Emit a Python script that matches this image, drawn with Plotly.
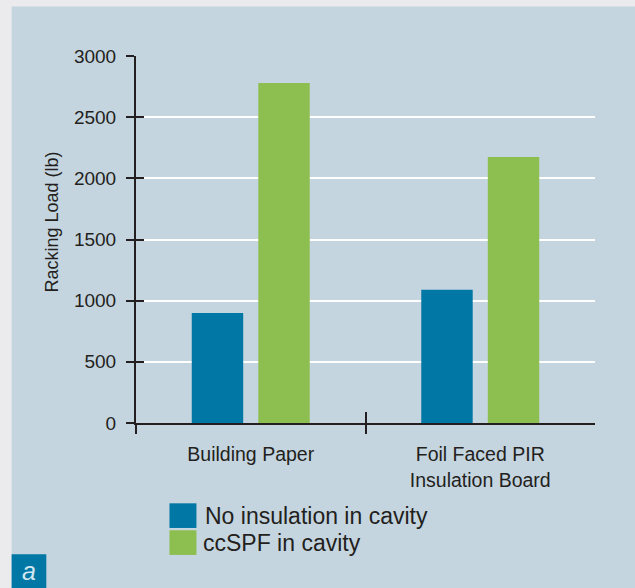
import plotly.graph_objects as go

# ---- data ----
categories = ["Building Paper", "Foil Faced PIR<br>Insulation Board"]
series_names = ["No insulation in cavity", "ccSPF in cavity"]
no_insulation = [900, 1090]
ccspf = [2780, 2175]
y_ticks = [0, 500, 1000, 1500, 2000, 2500, 3000]
y_title = "Racking Load (lb)"
panel_label = "a"

# ---- styles ----
W, H = 635, 588
L, R, T, B = 135.5, 40, 55.7, 164.5
BLUE = "#0077a4"
GREEN = "#8cbe50"
PANEL = "#c5d5df"
OUTER = "#ebebed"
DARK = "#231f20"
FONT = "Liberation Sans, Arial, sans-serif"

pw = W - L - R
ph = H - T - B


def px(x):
    return (x - L) / pw


def py(y):
    return (H - B - y) / ph


fig = go.Figure()
fig.add_trace(go.Bar(x=categories, y=no_insulation, name=series_names[0],
                     marker=dict(color=BLUE, line=dict(width=0)), showlegend=False,
                     hoverinfo="x+y"))
fig.add_trace(go.Bar(x=categories, y=ccspf, name=series_names[1],
                     marker=dict(color=GREEN, line=dict(width=0)), showlegend=False,
                     hoverinfo="x+y"))
# empty helper traces so that the overlay tick axes get drawn
for xa, ya in (("x2", "y"), ("x3", "y"), ("x", "y2")):
    fig.add_trace(go.Scatter(x=[None], y=[None], xaxis=xa, yaxis=ya, mode="markers",
                             showlegend=False, hoverinfo="skip"))

shapes = [
    dict(type="rect", xref="paper", yref="paper", x0=px(11), x1=px(W + 5),
         y0=py(H + 5), y1=py(6), fillcolor=PANEL, line=dict(width=0), layer="below"),
    dict(type="rect", xref="paper", yref="paper", x0=px(11), x1=px(45.7),
         y0=py(H + 5), y1=py(555), fillcolor=BLUE, line=dict(width=0), layer="below"),
    dict(type="rect", xref="paper", yref="paper", x0=px(169), x1=px(196),
         y0=py(528.7), y1=py(504), fillcolor=BLUE, line=dict(width=0)),
    dict(type="rect", xref="paper", yref="paper", x0=px(169), x1=px(196),
         y0=py(555.7), y1=py(531), fillcolor=GREEN, line=dict(width=0)),
]

annotations = [
    dict(xref="paper", yref="paper", x=px(203), y=py(516.5), xanchor="left", yanchor="middle",
         text=series_names[0], showarrow=False, font=dict(size=23, color=DARK, family=FONT)),
    dict(xref="paper", yref="paper", x=px(201), y=py(543.5), xanchor="left", yanchor="middle",
         text=series_names[1], showarrow=False, font=dict(size=23, color=DARK, family=FONT)),
    dict(xref="paper", yref="paper", x=px(28.5), y=py(571.5), xanchor="center", yanchor="middle",
         text="<i>" + panel_label + "</i>", showarrow=False,
         font=dict(size=25, color="#d2e6f1", family=FONT)),
    dict(xref="paper", yref="paper", x=px(51), y=py(222), xanchor="center", yanchor="middle",
         text=y_title, textangle=-90, showarrow=False,
         font=dict(size=18, color=DARK, family=FONT)),
]

fig.update_layout(
    width=W, height=H,
    margin=dict(l=L, r=R, t=T, b=B, pad=0),
    paper_bgcolor=OUTER,
    plot_bgcolor="rgba(0,0,0,0)",
    barmode="group",
    bargap=0.42,
    bargroupgap=0.227,
    font=dict(family=FONT, color=DARK),
    shapes=shapes,
    annotations=annotations,
    hovermode="closest",
    xaxis=dict(
        type="category", range=[-0.5, 1.5], showgrid=False, zeroline=False,
        showline=True, linecolor=DARK, linewidth=2, ticks="",
        tickfont=dict(size=19.5, color=DARK, family=FONT), ticklabelstandoff=13,
    ),
    xaxis2=dict(
        overlaying="x", anchor="y", type="linear", range=[-0.5, 1.5],
        tickvals=[-0.5, 0.5], ticks="outside", ticklen=10, tickwidth=2, tickcolor=DARK,
        showticklabels=False, showgrid=False, zeroline=False, showline=False,
    ),
    xaxis3=dict(
        overlaying="x", anchor="y", type="linear", range=[-0.5, 1.5],
        tickvals=[0.5], ticks="inside", ticklen=11, tickwidth=2, tickcolor=DARK,
        showticklabels=False, showgrid=False, zeroline=False, showline=False,
    ),
    yaxis=dict(
        range=[0, 3000], tickvals=y_ticks, ticks="outside", ticklen=8, tickwidth=2,
        tickcolor=DARK, showline=True, linecolor=DARK, linewidth=2,
        showgrid=True, gridcolor="white", gridwidth=2, zeroline=False,
        tickfont=dict(size=19, color=DARK, family=FONT), ticklabelstandoff=6,
    ),
    yaxis2=dict(
        overlaying="y", anchor="x", range=[0, 3000], tickvals=y_ticks,
        ticks="inside", ticklen=8, tickwidth=2, tickcolor=DARK,
        showticklabels=False, showgrid=False, zeroline=False, showline=False,
    ),
)

fig.write_html("out.html", config={"displayModeBar": False},
               post_script="document.body.style.margin='0';document.body.style.overflow='hidden';")
